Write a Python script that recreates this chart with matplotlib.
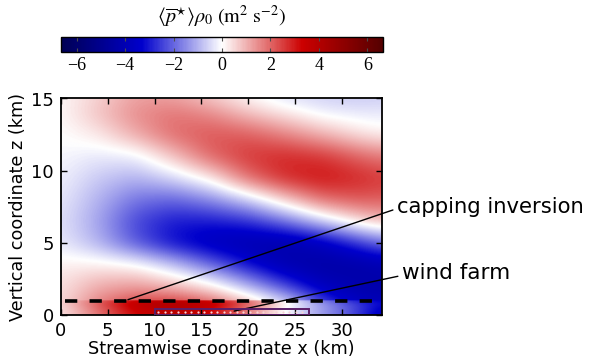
import numpy as np
import matplotlib
matplotlib.use("Agg")
import matplotlib.pyplot as plt
from matplotlib.patches import Rectangle
from matplotlib.colors import LinearSegmentedColormap

plt.rcParams["font.family"] = ["DejaVu Sans"]
plt.rcParams["mathtext.fontset"] = "stix"

# Sample grid of the mean pressure perturbation field (m^2 s^-2)
x_nodes = [0.0, 4.0, 8.0, 12.0, 16.0, 20.0, 24.0, 28.0, 32.0, 34.3]
z_nodes = [0.0, 0.5, 0.9, 1.1, 2.0, 3.5, 5.0, 6.5, 8.0, 9.5, 11.0, 12.5, 14.0, 15.0]
p_rows = [
    [0.3, 1.8, 3.3, 3.8, 3.3, 1.6, -0.1, -1.3, -2.6, -3.8],   # z = 0.0
    [0.4, 2.0, 3.6, 4.0, 3.5, 1.8, 0.0, -1.3, -2.6, -3.5],    # z = 0.5
    [0.5, 2.2, 3.8, 4.2, 3.8, 2.2, 0.2, -1.5, -2.8, -3.2],    # z = 0.9
    [0.4, 1.4, 1.9, 1.9, 1.3, 0.3, -0.8, -2.8, -4.0, -4.2],   # z = 1.1
    [0.4, 1.1, 1.3, 0.9, 0.3, -1.0, -2.5, -3.8, -4.2, -4.2],  # z = 2.0
    [0.2, 0.2, 0.0, -0.8, -2.0, -3.2, -4.1, -4.4, -4.3, -4.1],  # z = 3.5
    [-0.3, -1.0, -2.2, -3.2, -3.8, -4.1, -4.2, -3.7, -2.6, -1.9],  # z = 5.0
    [-0.4, -1.2, -2.4, -3.0, -3.0, -2.7, -1.8, -0.6, 0.5, 0.9],  # z = 6.5
    [-0.3, -1.0, -1.8, -2.0, -1.5, -0.6, 0.7, 1.9, 2.2, 2.1],  # z = 8.0
    [-0.2, -0.7, -1.0, -0.5, 0.3, 1.9, 2.8, 3.1, 2.8, 2.6],   # z = 9.5
    [-0.1, -0.3, -0.2, 0.8, 2.0, 2.6, 2.8, 2.6, 2.0, 1.7],    # z = 11.0
    [0.0, 0.3, 1.1, 1.9, 2.2, 2.1, 1.6, 1.0, 0.4, 0.2],       # z = 12.5
    [0.1, 0.8, 1.5, 1.8, 1.5, 0.8, 0.3, -0.2, -0.3, -0.3],    # z = 14.0
    [0.1, 0.6, 1.2, 1.2, 0.7, 0.1, -0.4, -0.6, -0.7, -0.6],   # z = 15.0
]

cbar_ticks = [-6, -4, -2, 0, 2, 4, 6]
x_ticks = [0, 5, 10, 15, 20, 25, 30]
z_ticks = [0, 5, 10, 15]

inversion_height = 1.0
farm_start, farm_end, farm_top = 10.0, 26.5, 0.42
turbine_x = [10.4, 11.1, 11.8, 12.5, 13.2, 13.9, 14.6, 15.3, 16.0, 16.7,
             17.4, 18.1, 18.8, 19.5, 20.2, 20.9, 21.6, 22.3, 23.0, 23.7,
             24.4, 25.1, 25.8]
turbine_z = 0.21

x_max, z_max = 34.3, 15.0
vlim = 6.65

cmap = LinearSegmentedColormap.from_list(
    "pressure",
    [(0.0, (0.0, 0.0, 0.33)), (0.25, (0.0, 0.0, 0.80)), (0.5, (1.0, 1.0, 1.0)),
     (0.75, (0.80, 0.0, 0.0)), (1.0, (0.33, 0.0, 0.0))])


def gaussian_blur(a, sigma, axis):
    r = int(3 * sigma) + 1
    k = np.exp(-0.5 * (np.arange(-r, r + 1) / sigma) ** 2)
    k /= k.sum()
    pad = [(0, 0)] * a.ndim
    pad[axis] = (r, r)
    ap = np.pad(a, pad, mode="edge")
    return np.apply_along_axis(lambda v: np.convolve(v, k, mode="valid"), axis, ap)


# Resample the grid onto a fine mesh and smooth it
P = np.array(p_rows)
xf = np.linspace(0, x_max, 420)
zf = np.linspace(0, z_max, 400)
rows_x = np.array([np.interp(xf, x_nodes, r) for r in P])
field = np.array([np.interp(zf, z_nodes, rows_x[:, j]) for j in range(len(xf))]).T
field = gaussian_blur(field, 14, axis=1)
split = np.searchsorted(zf, inversion_height)
low = gaussian_blur(field[:split], 4, axis=0)
high = gaussian_blur(field[split:], 14, axis=0)
field = np.vstack([low, high])

fig = plt.figure(figsize=(5.91, 3.62), dpi=100)
ax = fig.add_axes([61 / 591, 1 - 315 / 362, 321 / 591, 216.5 / 362])
cax = fig.add_axes([61 / 591, 1 - 51.5 / 362, 322 / 591, 14.5 / 362])

im = ax.imshow(field, extent=[0, x_max, 0, z_max], origin="lower",
               cmap=cmap, vmin=-vlim, vmax=vlim, aspect="auto",
               interpolation="bilinear")

ax.plot([0.46, 34.0], [inversion_height, inversion_height], color="black",
        lw=2.6, dashes=(3.4, 3.4), solid_capstyle="butt", dash_capstyle="butt")

ax.add_patch(Rectangle((farm_start, 0.03), farm_end - farm_start, farm_top - 0.03,
                       fill=False, edgecolor="#5b1f6a", lw=1.4, zorder=4))
ax.plot(turbine_x, [turbine_z] * len(turbine_x), ls="none", marker="o",
        ms=1.6, mfc="#f6d2d8", mec="none", zorder=5)

ax.set_xlim(0, x_max)
ax.set_ylim(0, z_max)
ax.set_xticks(x_ticks)
ax.set_yticks(z_ticks)
ax.tick_params(direction="in", top=True, right=True, length=4, width=1,
               labelsize=13, pad=5)
for s in ax.spines.values():
    s.set_linewidth(1.3)
ax.set_xlabel("Streamwise coordinate x (km)", fontsize=12.7, labelpad=0)
ax.set_ylabel("Vertical coordinate z (km)", fontsize=12.7, labelpad=3)

ax.annotate("capping inversion", xy=(7.15, 1.06), xycoords="data",
            xytext=(397 / 591, 1 - 207 / 362), textcoords="figure fraction",
            fontsize=15.2, ha="left", va="center", annotation_clip=False,
            arrowprops=dict(arrowstyle="-", color="black", lw=1.0,
                            relpos=(0, 0.42), shrinkA=1, shrinkB=0))
ax.annotate("wind farm", xy=(18.5, 0.27), xycoords="data",
            xytext=(402 / 591, 1 - 273 / 362), textcoords="figure fraction",
            fontsize=15.5, ha="left", va="center", annotation_clip=False,
            arrowprops=dict(arrowstyle="-", color="black", lw=1.0,
                            relpos=(0, 0.38), shrinkA=1, shrinkB=0))

cb = fig.colorbar(im, cax=cax, orientation="horizontal", ticks=cbar_ticks)
cb.outline.set_linewidth(1.0)
cax.tick_params(direction="in", top=True, bottom=True, length=3, width=0.8,
                labelsize=13, pad=4, color="0.3")
cax.set_xticklabels(["\u2212" + str(-t) if t < 0 else str(t) for t in cbar_ticks],
                    family="Liberation Serif")
fig.text(222 / 591, 1 - 17 / 362,
         r"$\langle\overline{p}^{\star}\rangle\rho_0\ (\mathrm{m}^2\ \mathrm{s}^{-2})$",
         ha="center", va="center", fontsize=14.5)

fig.savefig("out.png", dpi=100)
